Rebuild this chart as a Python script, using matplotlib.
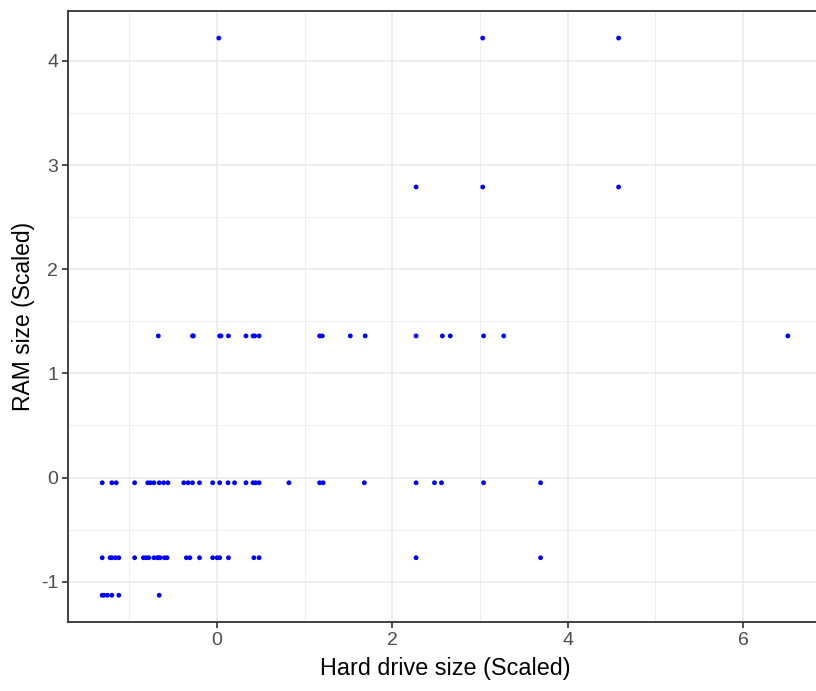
import matplotlib
matplotlib.use("Agg")
import matplotlib.pyplot as plt
import numpy as np

# RAM levels (scaled) and the hard-drive values (scaled) observed at each level
ram_levels = [4.22, 2.79, 1.36, -0.05, -0.77, -1.13]
hd_at_4_22 = [0.02, 3.03, 4.58]
hd_at_2_79 = [2.27, 3.03, 4.58]
hd_at_1_36 = [-0.67, -0.28, -0.27, 0.03, 0.045, 0.13, 0.33, 0.41, 0.43, 0.48,
              1.17, 1.20, 1.52, 1.69, 2.27, 2.57, 2.66, 3.04, 3.27, 6.51]
hd_at_m0_05 = [-1.31, -1.20, -1.15, -0.94, -0.79, -0.76, -0.72, -0.66, -0.61, -0.56,
               -0.38, -0.33, -0.28, -0.20, -0.05, 0.03, 0.125, 0.20, 0.33, 0.41,
               0.44, 0.48, 0.82, 1.17, 1.21, 1.68, 2.27, 2.48, 2.56, 3.04, 3.69]
hd_at_m0_77 = [-1.31, -1.22, -1.20, -1.16, -1.12, -0.94, -0.84, -0.81, -0.78, -0.72,
               -0.68, -0.67, -0.65, -0.60, -0.57, -0.35, -0.31, -0.20, -0.05, 0.00,
               0.03, 0.13, 0.42, 0.48, 2.27, 3.69]
hd_at_m1_13 = [-1.31, -1.29, -1.25, -1.20, -1.12, -0.66]

groups = [hd_at_4_22, hd_at_2_79, hd_at_1_36, hd_at_m0_05, hd_at_m0_77, hd_at_m1_13]
x = np.concatenate([np.array(g, dtype=float) for g in groups])
y = np.concatenate([np.full(len(g), lvl) for g, lvl in zip(groups, ram_levels)])

x_ticks = [0, 2, 4, 6]
y_ticks = [-1, 0, 1, 2, 3, 4]

plt.rcParams['font.family'] = ['Liberation Sans', 'DejaVu Sans']

fig = plt.figure(figsize=(8.16, 6.91), dpi=100)
ax = fig.add_axes([68/816, 69/691, (822-68)/816, (622-11)/691])

ax.set_xlim(-1.70, 6.90)
ax.set_ylim(-1.387, 4.48)

ax.set_xticks(x_ticks)
ax.set_yticks(y_ticks)
ax.set_xticks([-1, 1, 3, 5], minor=True)
ax.set_yticks([-0.5, 0.5, 1.5, 2.5, 3.5], minor=True)
ax.set_xticklabels([str(t) for t in x_ticks])
ax.set_yticklabels([str(t) for t in y_ticks])

ax.grid(True, which='major', color='#EBEBEB', linewidth=1.2)
ax.grid(True, which='minor', color='#EBEBEB', linewidth=0.6)
ax.set_axisbelow(True)

ax.scatter(x, y, s=12, color='#0000FF', edgecolors='none', zorder=3)

for sp in ax.spines.values():
    sp.set_color('#333333')
    sp.set_linewidth(1.3)

ax.tick_params(axis='both', which='major', length=4, width=1.2, color='#333333',
               labelsize=14, labelcolor='#4D4D4D', pad=3)
ax.tick_params(axis='both', which='minor', length=0)

ax.set_xlabel('Hard drive size (Scaled)', fontsize=16.8, color='black', labelpad=6)
ax.set_ylabel('RAM size (Scaled)', fontsize=16.5, color='black', labelpad=4)

fig.savefig('out.png', dpi=100)
